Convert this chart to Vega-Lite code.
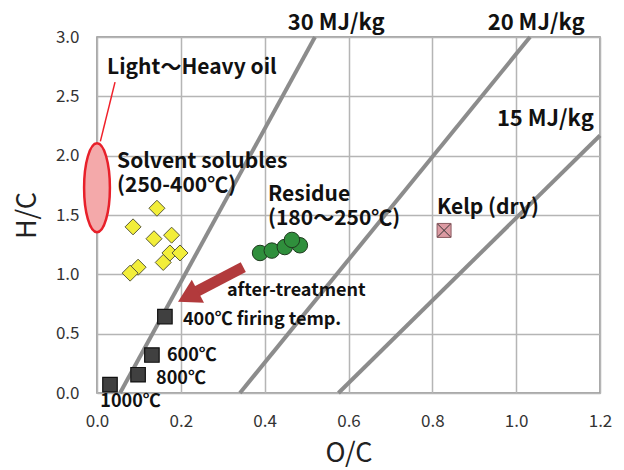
{
  "$schema": "https://vega.github.io/schema/vega-lite/v6.json",
  "width": 503,
  "height": 356,
  "autosize": "none",
  "padding": {"left": 97, "top": 37, "right": 24, "bottom": 77},
  "background": "white",
  "config": {
    "font": "Noto Sans CJK JP",
    "view": {"stroke": "#8a8a8a", "strokeWidth": 1.5},
    "axis": {
      "grid": true, "gridColor": "#b5b5b5", "gridWidth": 1.5,
      "ticks": false, "domain": false, "labelFlush": false,
      "labelFont": "Noto Sans CJK JP", "labelFontSize": 17, "labelColor": "#333333",
      "titleFont": "Noto Sans CJK JP", "titleFontSize": 27, "titleFontWeight": "normal", "titleColor": "#222222"
    }
  },
  "datasets": {
    "lines": [
      {"name": "30 MJ/kg", "x": 0.055, "y": 0, "x2": 0.52, "y2": 3.0},
      {"name": "20 MJ/kg", "x": 0.341, "y": 0, "x2": 1.033, "y2": 3.0},
      {"name": "15 MJ/kg", "x": 0.576, "y": 0, "x2": 1.2, "y2": 2.17}
    ],
    "solubles": [
      {"x": 0.143, "y": 1.557}, {"x": 0.086, "y": 1.40}, {"x": 0.136, "y": 1.30},
      {"x": 0.178, "y": 1.33}, {"x": 0.174, "y": 1.18}, {"x": 0.198, "y": 1.18},
      {"x": 0.158, "y": 1.10}, {"x": 0.098, "y": 1.06}, {"x": 0.079, "y": 1.01}
    ],
    "residue": [
      {"x": 0.389, "y": 1.18}, {"x": 0.417, "y": 1.20}, {"x": 0.448, "y": 1.23},
      {"x": 0.484, "y": 1.245}, {"x": 0.465, "y": 1.29}
    ],
    "char": [
      {"temp": "400℃", "x": 0.162, "y": 0.644},
      {"temp": "600℃", "x": 0.131, "y": 0.32},
      {"temp": "800℃", "x": 0.098, "y": 0.154},
      {"temp": "1000℃", "x": 0.031, "y": 0.07}
    ],
    "kelp": [{"x": 0.828, "y": 1.37}],
    "oil": [{"x": 0.0, "y": 1.73}],
    "leader": [{"x": 0.008, "y": 2.12, "x2": 0.043, "y2": 2.62}],
    "arrow": [{"x": 0.349, "y": 1.06, "x2": 0.222, "y2": 0.826}],
    "arrowhead": [{"x": 0.217, "y": 0.813}],
    "labels": [
      {"kind": "big", "text": "Light～Heavy oil", "x": 0.024, "y": 2.742},
      {"kind": "big", "text": "Solvent solubles\n(250-400℃)", "x": 0.048, "y": 1.95},
      {"kind": "big", "text": "Residue\n(180～250℃)", "x": 0.408, "y": 1.672},
      {"kind": "big", "text": "Kelp (dry)", "x": 0.811, "y": 1.56},
      {"kind": "small", "text": "after-treatment", "x": 0.31, "y": 0.86},
      {"kind": "small", "text": "400℃ firing temp.", "x": 0.205, "y": 0.616},
      {"kind": "small", "text": "600℃", "x": 0.167, "y": 0.314},
      {"kind": "small", "text": "800℃", "x": 0.141, "y": 0.12},
      {"kind": "small", "text": "1000℃", "x": 0.008, "y": -0.08},
      {"kind": "mj", "text": "30 MJ/kg", "x": 0.455, "y": 3.12},
      {"kind": "mj", "text": "20 MJ/kg", "x": 0.932, "y": 3.12},
      {"kind": "mj", "text": "15 MJ/kg", "x": 0.954, "y": 2.313}
    ]
  },
  "encoding": {
    "x": {"field": "x", "type": "quantitative", "title": "O/C",
      "scale": {"domain": [0, 1.2], "nice": false, "zero": false},
      "axis": {"values": [0, 0.2, 0.4, 0.6, 0.8, 1.0, 1.2], "format": ".1f", "labelPadding": 20, "titlePadding": 11}},
    "y": {"field": "y", "type": "quantitative", "title": "H/C",
      "scale": {"domain": [0, 3], "nice": false, "zero": false},
      "axis": {"values": [0, 0.5, 1.0, 1.5, 2.0, 2.5, 3.0], "format": ".1f", "labelPadding": 18, "titlePadding": 14}}
  },
  "layer": [
    {
      "data": {"name": "lines"},
      "mark": {"type": "rule", "color": "#8c8c8c", "strokeWidth": 4},
      "encoding": {"x2": {"field": "x2"}, "y2": {"field": "y2"}}
    },
    {
      "data": {"name": "leader"},
      "mark": {"type": "rule", "color": "#f0202a", "strokeWidth": 1.5},
      "encoding": {"x2": {"field": "x2"}, "y2": {"field": "y2"}}
    },
    {
      "data": {"name": "oil"},
      "mark": {"type": "point", "shape": "M0,-1A0.29,1,0,1,1,0,1A0.29,1,0,1,1,0,-1Z", "size": 7921, "filled": true, "fill": "#f4a9aa", "stroke": "#e8202a", "strokeWidth": 2.5, "opacity": 1, "clip": false}
    },
    {
      "data": {"name": "arrow"},
      "mark": {"type": "rule", "color": "#b23a3c", "strokeWidth": 11},
      "encoding": {"x2": {"field": "x2"}, "y2": {"field": "y2"}}
    },
    {
      "data": {"name": "arrowhead"},
      "mark": {"type": "point", "shape": "triangle-up", "size": 676, "angle": 242, "filled": true, "fill": "#b23a3c", "opacity": 1}
    },
    {
      "data": {"name": "solubles"},
      "mark": {"type": "point", "shape": "diamond", "size": 256, "filled": true, "fill": "#f2ee3a", "stroke": "#5a5a3a", "strokeWidth": 1, "opacity": 1}
    },
    {
      "data": {"name": "residue"},
      "mark": {"type": "point", "shape": "circle", "size": 240, "filled": true, "fill": "#2f8f3c", "stroke": "#1e3a1e", "strokeWidth": 1, "opacity": 1}
    },
    {
      "data": {"name": "char"},
      "mark": {"type": "point", "shape": "square", "size": 210, "filled": true, "fill": "#404040", "stroke": "#111111", "strokeWidth": 1.2, "opacity": 1, "clip": false}
    },
    {
      "data": {"name": "kelp"},
      "mark": {"type": "point", "shape": "square", "size": 196, "filled": true, "fill": "#dc9aa2", "stroke": "#8a5a60", "strokeWidth": 1, "opacity": 1}
    },
    {
      "data": {"name": "kelp"},
      "mark": {"type": "point", "shape": "M-1,-1L1,1M1,-1L-1,1", "size": 160, "filled": false, "stroke": "#333333", "strokeWidth": 1, "opacity": 1}
    },
    {
      "data": {"name": "labels"},
      "transform": [{"filter": "datum.kind === 'big'"}],
      "mark": {"type": "text", "align": "left", "baseline": "middle", "fontSize": 21, "fontWeight": "bold", "color": "#111111", "lineBreak": "\n", "lineHeight": 24},
      "encoding": {"text": {"field": "text"}}
    },
    {
      "data": {"name": "labels"},
      "transform": [{"filter": "datum.kind === 'small'"}],
      "mark": {"type": "text", "align": "left", "baseline": "middle", "fontSize": 18, "fontWeight": "bold", "color": "#111111"},
      "encoding": {"text": {"field": "text"}}
    },
    {
      "data": {"name": "labels"},
      "transform": [{"filter": "datum.kind === 'mj'"}],
      "mark": {"type": "text", "align": "left", "baseline": "middle", "fontSize": 22, "fontWeight": "bold", "color": "#111111"},
      "encoding": {"text": {"field": "text"}}
    }
  ]
}
